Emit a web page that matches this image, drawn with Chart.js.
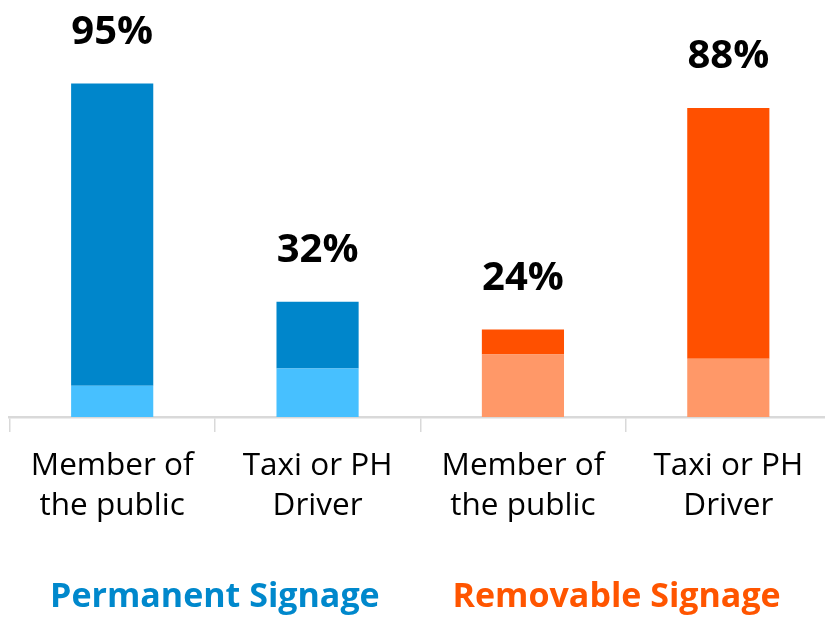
<!DOCTYPE html>
<html>
<head>
<meta charset="utf-8">
<script src="https://cdn.jsdelivr.net/npm/chart.js@4.4.1/dist/chart.umd.min.js"></script>
<style>
  html, body { margin: 0; padding: 0; background: #fff; overflow: hidden; }
  #wrap { position: relative; width: 832px; height: 617px; }
</style>
</head>
<body>
<div id="wrap"><canvas id="c" width="832" height="617"></canvas></div>
<script>
// ---- Data ----
const categories = [["Member of", "the public"], ["Taxi or PH", "Driver"], ["Member of", "the public"], ["Taxi or PH", "Driver"]];
const lowerSegment = [8.9, 13.8, 17.8, 16.6];
const upperSegment = [86.1, 19.0, 7.1, 71.4];
const totalLabels = ["95%", "32%", "24%", "88%"];
const groupTitles = ["Permanent Signage", "Removable Signage"];

// ---- Styles ----
const lowerColors = ["#47C0FF", "#47C0FF", "#FF9868", "#FF9868"];
const upperColors = ["#0086CB", "#0086CB", "#FF5000", "#FF5000"];
const groupColors = ["#0088CC", "#FF5500"];
const FONT = "'Open Sans', 'DejaVu Sans', sans-serif";

const labelsPlugin = {
  id: 'labelsPlugin',
  afterDatasetsDraw(chart) {
    const ctx = chart.ctx;
    const x = chart.scales.x, y = chart.scales.y;
    ctx.save();
    ctx.fillStyle = '#000';
    ctx.font = "bold 40px " + FONT;
    ctx.textAlign = 'center';
    ctx.textBaseline = 'alphabetic';
    for (let i = 0; i < categories.length; i++) {
      const top = y.getPixelForValue(lowerSegment[i] + upperSegment[i]);
      ctx.fillText(totalLabels[i], x.getPixelForValue(i), top - 40);
    }
    ctx.font = "bold 34px " + FONT;
    for (let g = 0; g < groupTitles.length; g++) {
      const cx = (x.getPixelForValue(2 * g) + x.getPixelForValue(2 * g + 1)) / 2 - (g === 1 ? 9 : 0);
      ctx.fillStyle = groupColors[g];
      ctx.fillText(groupTitles[g], cx, 607);
    }
    ctx.restore();
  }
};

new Chart(document.getElementById('c'), {
  type: 'bar',
  data: {
    labels: categories,
    datasets: [
      { data: lowerSegment, backgroundColor: lowerColors, borderWidth: 0 },
      { data: upperSegment, backgroundColor: upperColors, borderWidth: 0 }
    ]
  },
  options: {
    responsive: false,
    animation: false,
    devicePixelRatio: 1,
    layout: { padding: { left: 9.5, right: 1, top: 66, bottom: 77 } },
    plugins: { legend: { display: false }, tooltip: { enabled: false } },
    datasets: { bar: { barPercentage: 0.4, categoryPercentage: 1.0 } },
    scales: {
      x: {
        stacked: true,
        grid: { display: true, drawOnChartArea: false, drawTicks: true, tickLength: 15, color: '#d9d9d9', lineWidth: 1.5, offset: true },
        border: { display: true, color: '#d9d9d9', width: 2.5 },
        ticks: { color: '#000', font: { family: FONT, size: 31.5, lineHeight: 1.27 }, padding: 14, maxRotation: 0, autoSkip: false }
      },
      y: {
        stacked: true,
        display: false,
        min: 0, max: 100
      }
    }
  },
  plugins: [labelsPlugin]
});
</script>
</body>
</html>
